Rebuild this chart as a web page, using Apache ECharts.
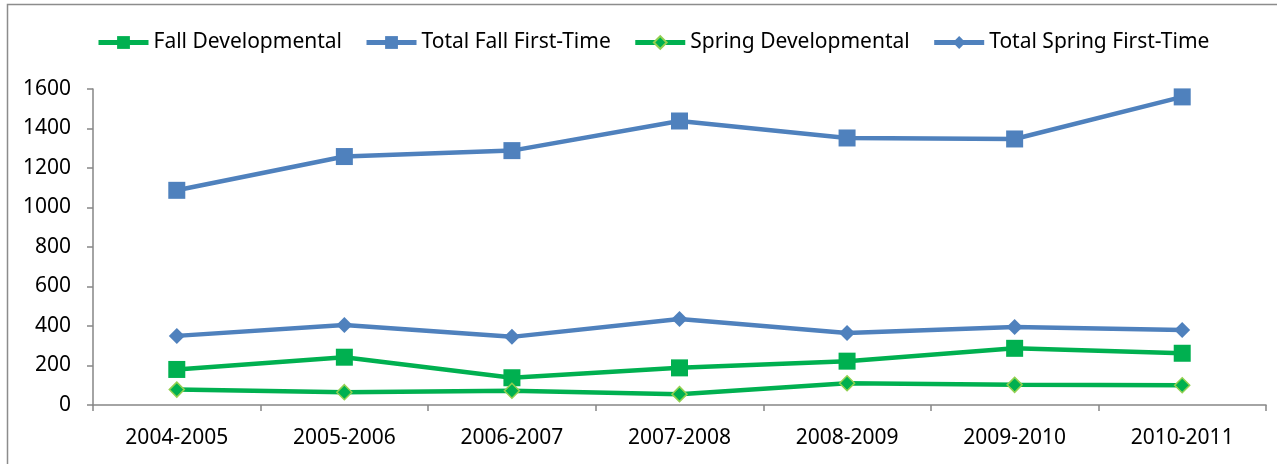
<!DOCTYPE html>
<html>
<head>
<meta charset="utf-8">
<script src="https://cdn.jsdelivr.net/npm/echarts@6/dist/echarts.min.js"></script>
<style>
  html, body { margin: 0; padding: 0; background: #fff; }
  #main { width: 1277px; height: 464px; }
</style>
</head>
<body>
<div id="main"></div>
<script>
var years = ['2004-2005', '2005-2006', '2006-2007', '2007-2008', '2008-2009', '2009-2010', '2010-2011'];
var fallDev = [180, 242, 138, 188, 222, 287, 262];
var totalFall = [1087, 1258, 1288, 1438, 1352, 1347, 1560];
var springDev = [78, 65, 72, 55, 110, 102, 100];
var totalSpring = [350, 405, 345, 435, 365, 395, 380];

var green = '#00B050';
var blue = '#4F81BD';
var font = 'Noto Sans';

var myChart = echarts.init(document.getElementById('main'));

function lineSeries(name, data, color, symbol, size, border) {
    return {
        name: name,
        type: 'line',
        data: data,
        symbol: symbol,
        symbolSize: size,
        showSymbol: true,
        animation: false,
        lineStyle: { color: color, width: 4.5 },
        itemStyle: {
            color: color,
            borderColor: border || color,
            borderWidth: border ? 1.5 : 0
        }
    };
}

function legendItem(name, color) {
    return { name: name, lineStyle: { width: 5, color: color } };
}

var option = {
    backgroundColor: '#fff',
    textStyle: { fontFamily: font },
    graphic: [{
        type: 'rect',
        shape: { x: 7.5, y: 4.5, width: 1400, height: 600 },
        style: { fill: 'none', stroke: '#8c8c8c', lineWidth: 1.5 },
        silent: true
    }],
    legend: {
        left: 91,
        top: 27,
        itemWidth: 50,
        itemHeight: 16,
        itemGap: 22,
        textStyle: { fontFamily: font, fontSize: 21, color: '#000' },
        data: [
            legendItem('Fall Developmental', green),
            legendItem('Total Fall First-Time', blue),
            legendItem('Spring Developmental', green),
            legendItem('Total Spring First-Time', blue)
        ]
    },
    grid: { left: 93, right: 11, top: 89, bottom: 59, containLabel: false },
    xAxis: {
        type: 'category',
        data: years,
        boundaryGap: true,
        axisLine: { lineStyle: { color: '#868686', width: 1.5 } },
        axisTick: { show: true, length: 6, alignWithLabel: false, lineStyle: { color: '#868686', width: 1.5 } },
        axisLabel: { color: '#000', fontSize: 21, fontFamily: font, margin: 23 },
        splitLine: { show: false }
    },
    yAxis: {
        type: 'value',
        min: 0,
        max: 1600,
        interval: 200,
        axisLine: { show: true, lineStyle: { color: '#868686', width: 1.5 } },
        axisTick: { show: true, length: 6, lineStyle: { color: '#868686', width: 1.5 } },
        axisLabel: {
            color: '#000', fontSize: 21, fontFamily: font, margin: 22,
            formatter: function (v) { return String(v); }
        },
        splitLine: { show: false }
    },
    series: [
        lineSeries('Fall Developmental', fallDev, green, 'rect', 17),
        lineSeries('Total Fall First-Time', totalFall, blue, 'rect', 17),
        lineSeries('Spring Developmental', springDev, green, 'diamond', 15, '#92D050'),
        lineSeries('Total Spring First-Time', totalSpring, blue, 'diamond', 16)
    ]
};
myChart.setOption(option);
</script>
</body>
</html>
